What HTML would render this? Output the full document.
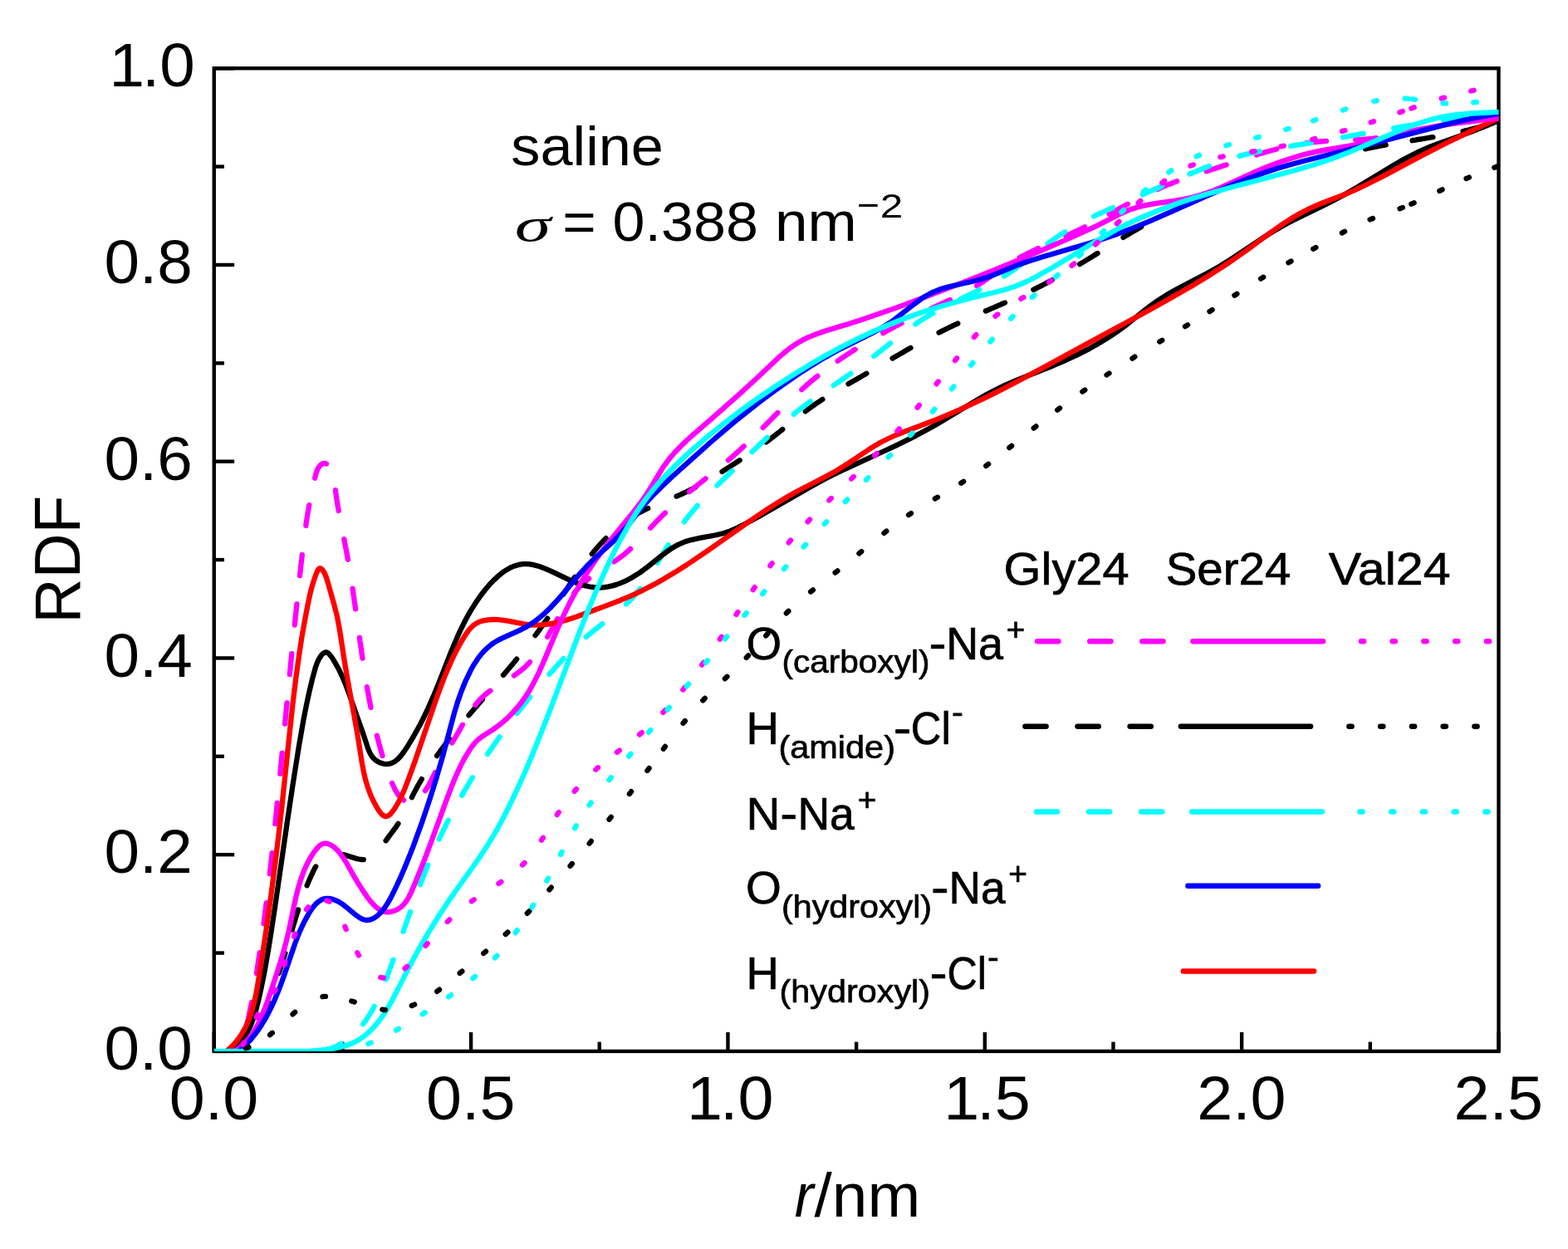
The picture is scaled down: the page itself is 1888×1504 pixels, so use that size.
<!DOCTYPE html>
<html lang="en">
<head>
<meta charset="utf-8">
<title>RDF saline</title>
<style>
html,body{margin:0;padding:0;background:#fff;}
body{width:1888px;height:1504px;overflow:hidden;}
svg{display:block;}
text{font-family:"Liberation Sans",sans-serif;fill:#000;}
.leg{font-family:"Liberation Sans",sans-serif;}
.c{fill:none;stroke-width:6.3;stroke-linecap:round;stroke-linejoin:round;}
</style>
</head>
<body>
<svg xmlns="http://www.w3.org/2000/svg" width="1888" height="1504" viewBox="0 0 1888 1504">
<rect x="0" y="0" width="1888" height="1504" fill="#ffffff"/>
<defs><clipPath id="pc"><rect x="257.75" y="82.25" width="1546.75" height="1183.65"/></clipPath></defs>
<g stroke="#000" stroke-width="4.4" fill="none" stroke-linecap="butt">
<rect x="257.75" y="82.25" width="1546.75" height="1183.65"/>
<line x1="257.75" y1="1265.90" x2="257.75" y2="1243.00"/>
<line x1="412.43" y1="1265.90" x2="412.43" y2="1254.60"/>
<line x1="567.10" y1="1265.90" x2="567.10" y2="1243.00"/>
<line x1="721.77" y1="1265.90" x2="721.77" y2="1254.60"/>
<line x1="876.45" y1="1265.90" x2="876.45" y2="1243.00"/>
<line x1="1031.12" y1="1265.90" x2="1031.12" y2="1254.60"/>
<line x1="1185.80" y1="1265.90" x2="1185.80" y2="1243.00"/>
<line x1="1340.47" y1="1265.90" x2="1340.47" y2="1254.60"/>
<line x1="1495.15" y1="1265.90" x2="1495.15" y2="1243.00"/>
<line x1="1649.83" y1="1265.90" x2="1649.83" y2="1254.60"/>
<line x1="1804.50" y1="1265.90" x2="1804.50" y2="1243.00"/>
<line x1="257.75" y1="1265.90" x2="282.15" y2="1265.90"/>
<line x1="257.75" y1="1147.54" x2="269.95" y2="1147.54"/>
<line x1="257.75" y1="1029.17" x2="282.15" y2="1029.17"/>
<line x1="257.75" y1="910.81" x2="269.95" y2="910.81"/>
<line x1="257.75" y1="792.44" x2="282.15" y2="792.44"/>
<line x1="257.75" y1="674.08" x2="269.95" y2="674.08"/>
<line x1="257.75" y1="555.71" x2="282.15" y2="555.71"/>
<line x1="257.75" y1="437.34" x2="269.95" y2="437.34"/>
<line x1="257.75" y1="318.98" x2="282.15" y2="318.98"/>
<line x1="257.75" y1="200.62" x2="269.95" y2="200.62"/>
<line x1="257.75" y1="82.25" x2="282.15" y2="82.25"/>
</g>
<g clip-path="url(#pc)">
<path class="c" stroke="#000000" d="M285.0 1265.9L286.7 1264.9L288.3 1263.8L289.8 1262.6L291.3 1261.4L292.8 1260.1M312.5 1229.4L313.4 1227.6L314.2 1225.8L315.0 1224.1L315.8 1222.3L316.6 1220.6L317.4 1218.8L318.2 1217.0L319.0 1215.2L319.7 1213.5L320.5 1211.7L321.3 1209.9L322.0 1208.1L322.8 1206.3M335.7 1171.9L336.4 1170.1L337.0 1168.2L337.6 1166.4L338.2 1164.5L338.8 1162.7L339.4 1160.9L340.0 1159.0L340.6 1157.2L341.1 1155.3L341.7 1153.5L342.3 1151.6L342.8 1149.8L343.4 1147.9M351.7 1119.6L352.2 1117.7L352.8 1115.9L353.3 1114.0L353.9 1112.2L354.5 1110.3L355.0 1108.5L355.6 1106.6L356.1 1104.7L356.7 1102.9L357.3 1101.0L357.9 1099.2L358.5 1097.4L359.1 1095.5M369.6 1066.4L370.3 1064.6L371.1 1062.8L371.8 1061.0L372.6 1059.2L373.4 1057.4L374.2 1055.7L375.0 1053.9L375.8 1052.1L376.6 1050.4L377.4 1048.6L378.3 1046.9L379.2 1045.2L380.2 1043.5M413.4 1029.1L415.2 1029.6L417.1 1030.1L419.0 1030.7L420.8 1031.3L422.7 1031.9L424.5 1032.4L426.4 1033.0L428.2 1033.6L430.1 1034.1L432.0 1034.5L433.9 1034.8L435.8 1035.0L437.8 1035.1M464.6 1012.2L465.8 1010.7L466.9 1009.1L468.1 1007.5L469.2 1006.0L470.4 1004.4L471.6 1002.9L472.7 1001.3L473.9 999.8L475.0 998.2L476.2 996.7L477.3 995.1L478.4 993.5L479.4 991.8M495.8 960.3L496.7 958.5L497.5 956.8L498.4 955.1L499.3 953.4L500.2 951.7L501.1 949.9L502.1 948.2L503.0 946.5L503.9 944.8L504.9 943.2L505.8 941.5L506.8 939.8L507.8 938.1M526.1 910.1L527.2 908.5L528.3 907.0L529.5 905.4L530.6 903.8L531.8 902.3L532.9 900.7L534.1 899.2L535.3 897.6L536.4 896.1L537.6 894.5L538.8 893.0L540.0 891.5L541.2 889.9M564.5 861.3L565.8 859.8L567.0 858.3L568.3 856.8L569.5 855.4L570.8 853.9L572.0 852.4L573.3 850.9L574.6 849.5L575.8 848.0L577.1 846.5L578.3 845.1L579.6 843.6L580.9 842.1M606.0 812.9L607.3 811.4L608.5 810.0L609.8 808.5L611.0 807.0L612.3 805.5L613.5 804.0L614.8 802.6L616.0 801.1L617.3 799.6L618.5 798.1L619.7 796.6L621.0 795.1L622.2 793.6M644.5 765.1L645.7 763.6L646.9 762.0L648.0 760.5L649.1 758.9L650.3 757.3L651.4 755.7L652.5 754.2L653.6 752.6L654.8 751.0L655.9 749.4L657.0 747.8L658.1 746.2L659.2 744.6M678.3 715.7L679.3 714.1L680.4 712.5L681.5 710.9L682.5 709.3L683.6 707.7L684.7 706.0L685.7 704.4L686.8 702.8L687.9 701.2L689.0 699.6L690.1 698.0L691.2 696.4L692.3 694.8M712.8 667.0L714.1 665.5L715.3 664.0L716.5 662.5L717.8 661.0L719.1 659.6L720.3 658.1L721.6 656.7L722.9 655.2L724.2 653.8L725.6 652.4L726.9 651.0L728.2 649.6L729.6 648.2M758.2 624.3L759.8 623.3L761.5 622.2L763.1 621.2L764.8 620.2L766.4 619.2L768.1 618.2L769.8 617.3L771.5 616.4L773.2 615.5L775.0 614.6L776.7 613.7L778.4 612.9L780.2 612.1M814.6 597.6L816.4 596.8L818.1 596.1L819.9 595.3L821.7 594.5L823.4 593.7L825.2 592.8L826.9 592.0L828.7 591.2L830.4 590.3L832.2 589.4L833.9 588.6L835.6 587.7L837.3 586.8M869.5 567.9L871.1 566.8L872.8 565.8L874.4 564.7L876.0 563.7L877.7 562.6L879.3 561.6L880.9 560.5L882.5 559.5L884.2 558.4L885.8 557.4L887.4 556.3L889.1 555.3L890.7 554.2M922.4 532.4L924.0 531.2L925.5 530.1L927.1 528.9L928.6 527.7L930.1 526.6L931.7 525.4L933.2 524.2L934.7 523.0L936.3 521.8L937.8 520.6L939.3 519.4L940.8 518.2L942.3 517.0M969.8 495.3L971.3 494.1L972.9 493.0L974.4 491.8L976.0 490.7L977.6 489.6L979.2 488.4L980.8 487.3L982.4 486.2L984.0 485.2L985.6 484.1L987.2 483.0L988.8 481.9L990.4 480.9M1021.6 462.3L1023.3 461.3L1025.0 460.3L1026.7 459.4L1028.3 458.4L1030.0 457.5L1031.7 456.5L1033.4 455.5L1035.1 454.6L1036.7 453.6L1038.4 452.6L1040.1 451.6L1041.8 450.7L1043.4 449.7M1074.6 431.5L1076.3 430.5L1078.0 429.5L1079.7 428.6L1081.3 427.6L1083.0 426.6L1084.7 425.6L1086.4 424.7L1088.1 423.7L1089.7 422.8L1091.4 421.8L1093.1 420.8L1094.8 419.9L1096.5 418.9M1130.6 400.5L1132.4 399.6L1134.1 398.7L1135.8 397.9L1137.6 397.0L1139.3 396.1L1141.1 395.3L1142.8 394.4L1144.5 393.6L1146.3 392.8L1148.0 391.9L1149.8 391.1L1151.5 390.3L1153.3 389.5M1186.9 374.5L1188.7 373.7L1190.5 373.0L1192.3 372.2L1194.0 371.4L1195.8 370.7L1197.6 369.9L1199.4 369.1L1201.1 368.3L1202.9 367.6L1204.7 366.8L1206.5 366.0L1208.3 365.3L1210.0 364.5M1244.3 348.8L1246.1 348.0L1247.8 347.1L1249.5 346.2L1251.3 345.4L1253.0 344.5L1254.7 343.6L1256.5 342.7L1258.2 341.8L1259.9 340.9L1261.6 340.0L1263.3 339.1L1265.0 338.2L1266.7 337.3M1300.1 318.1L1301.7 317.1L1303.4 316.1L1305.1 315.1L1306.7 314.1L1308.4 313.1L1310.0 312.1L1311.7 311.1L1313.3 310.1L1315.0 309.1L1316.6 308.0L1318.3 307.0L1319.9 306.0L1321.6 305.0M1352.5 285.9L1354.2 284.9L1355.9 283.9L1357.5 282.9L1359.2 281.9L1360.8 280.9L1362.5 279.9L1364.2 278.9L1365.8 277.9L1367.5 277.0L1369.2 276.0L1370.8 275.0L1372.5 274.0L1374.2 273.0M1644.0 179.3L1645.9 178.9L1647.8 178.5L1649.7 178.1L1651.6 177.7L1653.5 177.3L1655.4 176.9L1657.3 176.6L1659.2 176.2L1661.1 175.8L1663.0 175.5L1664.9 175.1L1666.8 174.8L1668.7 174.5M1700.5 169.2L1702.4 168.9L1704.3 168.6L1706.3 168.2L1708.2 167.9L1710.1 167.6L1712.0 167.3L1713.9 167.0L1715.8 166.7L1717.7 166.4L1719.6 166.0L1721.6 165.7L1723.5 165.4L1725.4 165.1M1761.5 158.0L1763.4 157.6L1765.3 157.1L1767.1 156.7L1769.0 156.2L1770.9 155.7L1772.8 155.3L1774.7 154.8L1776.5 154.3L1778.4 153.8L1780.3 153.3L1782.2 152.8L1784.0 152.3L1785.9 151.8"/>
<path class="c" stroke="#ff00ff" d="M283.0 1265.9L284.1 1265.0L285.2 1264.0M297.9 1231.6L298.3 1229.7L298.7 1227.8L299.1 1225.9L299.5 1224.0L299.9 1222.1L300.3 1220.2L300.7 1218.3L301.0 1216.4L301.4 1214.5L301.8 1212.6L302.2 1210.7L302.5 1208.8L302.9 1206.9M308.9 1172.1L309.2 1170.2L309.5 1168.3L309.8 1166.4L310.1 1164.5L310.4 1162.5L310.6 1160.6L310.9 1158.7L311.2 1156.8L311.5 1154.9L311.8 1153.0L312.1 1151.0L312.3 1149.1L312.6 1147.2M317.5 1112.2L317.7 1110.3L318.0 1108.4L318.2 1106.5L318.5 1104.6L318.7 1102.6L319.0 1100.7L319.2 1098.8L319.4 1096.9L319.7 1094.9L319.9 1093.0L320.2 1091.1L320.4 1089.2L320.7 1087.2M324.8 1052.2L325.0 1050.3L325.3 1048.3L325.5 1046.4L325.7 1044.5L325.9 1042.6L326.1 1040.6L326.3 1038.7L326.6 1036.8L326.8 1034.9L327.0 1032.9L327.2 1031.0L327.4 1029.1L327.6 1027.1M331.3 992.0L331.5 990.1L331.7 988.2L331.9 986.3L332.1 984.3L332.3 982.4L332.5 980.5L332.7 978.5L332.9 976.6L333.1 974.7L333.3 972.8L333.4 970.8L333.6 968.9L333.8 967.0M337.3 931.8L337.5 929.9L337.6 928.0L337.8 926.0L338.0 924.1L338.2 922.2L338.4 920.3L338.6 918.3L338.8 916.4L338.9 914.5L339.1 912.5L339.3 910.6L339.5 908.7L339.7 906.8M343.1 871.6L343.2 869.7L343.4 867.8L343.6 865.8L343.8 863.9L344.0 862.0L344.2 860.0L344.3 858.1L344.5 856.2L344.7 854.2L344.9 852.3L345.1 850.4L345.3 848.5L345.5 846.5M348.8 812.2L349.0 810.2L349.2 808.3L349.4 806.4L349.6 804.5L349.7 802.5L349.9 800.6L350.1 798.7L350.3 796.7L350.5 794.8L350.7 792.9L350.9 791.0L351.1 789.0L351.3 787.1M354.8 752.5L355.0 750.6L355.2 748.6L355.4 746.7L355.6 744.8L355.8 742.9L356.0 740.9L356.2 739.0L356.4 737.1L356.6 735.1L356.8 733.2L357.0 731.3L357.2 729.4L357.4 727.4M361.0 693.2L361.2 691.3L361.5 689.3L361.7 687.4L361.9 685.5L362.1 683.6L362.3 681.6L362.5 679.7L362.7 677.8L362.9 675.9L363.2 673.9L363.4 672.0L363.6 670.1L363.8 668.1M368.3 633.0L368.6 631.0L368.8 629.1L369.1 627.2L369.4 625.3L369.7 623.4L370.0 621.5L370.3 619.6L370.6 617.6L370.9 615.7L371.3 613.8L371.6 611.9L371.9 610.0L372.3 608.1M379.1 575.7L379.6 573.8L380.0 572.0L380.6 570.1L381.1 568.3L381.8 566.4L382.6 564.7L383.5 563.0L384.7 561.4L386.0 560.0L387.5 558.8L389.3 558.0L391.2 557.9L393.0 558.6M403.9 590.1L404.2 592.0L404.4 593.9L404.7 595.9L405.0 597.8L405.2 599.7L405.5 601.6L405.8 603.5L406.1 605.4L406.4 607.4L406.7 609.3L407.1 611.2L407.4 613.1L407.7 615.0M414.3 649.1L414.6 651.0L415.0 652.9L415.4 654.8L415.7 656.7L416.1 658.6L416.5 660.5L416.8 662.4L417.2 664.3L417.5 666.2L417.9 668.1L418.2 670.0L418.6 671.9L418.9 673.8M424.5 708.6L424.8 710.5L425.1 712.4L425.4 714.3L425.6 716.2L425.9 718.1L426.2 720.1L426.5 722.0L426.7 723.9L427.0 725.8L427.3 727.7L427.6 729.7L427.8 731.6L428.1 733.5M432.9 767.8L433.2 769.7L433.4 771.6L433.7 773.6L434.0 775.5L434.3 777.4L434.5 779.3L434.8 781.2L435.1 783.2L435.4 785.1L435.6 787.0L435.9 788.9L436.2 790.8L436.5 792.7M441.9 827.1L442.2 829.0L442.6 830.9L442.9 832.8L443.2 834.7L443.6 836.6L443.9 838.5L444.3 840.4L444.6 842.3L445.0 844.2L445.4 846.1L445.7 848.0L446.1 849.9L446.5 851.8M453.9 885.8L454.4 887.7L454.9 889.6L455.3 891.4L455.8 893.3L456.3 895.2L456.8 897.1L457.3 898.9L457.8 900.8L458.3 902.7L458.9 904.5L459.4 906.4L460.0 908.3L460.5 910.1M472.1 943.0L472.9 944.7L473.7 946.5L474.5 948.3L475.3 950.0L476.2 951.7L477.2 953.4L478.2 955.1L479.3 956.7L480.5 958.2L481.8 959.7L483.1 961.0L484.6 962.3L486.1 963.5M512.0 952.1L513.1 950.5L514.2 948.9L515.2 947.2L516.1 945.5L517.1 943.8L518.0 942.1L518.9 940.4L519.7 938.7L520.6 936.9L521.4 935.2L522.3 933.5L523.2 931.7L524.1 930.0M544.3 894.5L545.3 892.8L546.3 891.2L547.3 889.5L548.3 887.8L549.3 886.2L550.2 884.5L551.2 882.8L552.2 881.1L553.2 879.5L554.1 877.8L555.1 876.1L556.0 874.4L557.0 872.7M572.2 849.0L573.4 847.5L574.7 846.0L575.9 844.5L577.2 843.1L578.6 841.7L579.9 840.3L581.4 839.0L582.8 837.7L584.3 836.4L585.8 835.2L587.3 834.0L588.8 832.8L590.4 831.7M618.9 813.5L620.5 812.5L622.1 811.3L623.6 810.2L625.2 809.0L626.7 807.9L628.2 806.6L629.7 805.4L631.2 804.1L632.6 802.8L634.0 801.4L635.3 800.1L636.7 798.7L638.0 797.2M659.1 767.0L660.1 765.3L661.0 763.6L662.0 761.9L662.9 760.2L663.9 758.5L664.8 756.8L665.7 755.2L666.7 753.5L667.6 751.8L668.6 750.1L669.5 748.4L670.4 746.7L671.4 745.0M691.2 714.4L692.4 712.9L693.6 711.4L694.9 709.9L696.2 708.5L697.5 707.1L698.9 705.7L700.3 704.3L701.7 703.0L703.1 701.7L704.6 700.4L706.1 699.2L707.6 697.9L709.1 696.7M739.4 676.4L741.0 675.4L742.6 674.2L744.2 673.1L745.7 672.0L747.3 670.8L748.8 669.7L750.4 668.5L751.9 667.3L753.4 666.0L754.8 664.7L756.3 663.5L757.7 662.2L759.1 660.9M783.3 635.6L784.6 634.2L785.9 632.8L787.2 631.4L788.6 630.0L789.9 628.5L791.3 627.1L792.6 625.8L794.0 624.4L795.3 623.0L796.7 621.6L798.1 620.3L799.5 618.9L800.9 617.6M830.0 592.2L831.5 590.9L833.0 589.7L834.5 588.5L836.0 587.3L837.5 586.1L839.0 584.9L840.5 583.6L842.0 582.4L843.5 581.2L845.1 580.0L846.6 578.8L848.1 577.6L849.6 576.4M876.9 554.1L878.4 552.8L879.9 551.6L881.4 550.3L882.8 549.0L884.3 547.8L885.7 546.5L887.2 545.2L888.6 543.9L890.1 542.6L891.5 541.3L892.9 540.0L894.3 538.6L895.7 537.3M918.7 514.9L920.0 513.5L921.4 512.2L922.8 510.8L924.1 509.4L925.5 508.0L926.9 506.7L928.2 505.3L929.6 503.9L930.9 502.5L932.3 501.1L933.7 499.8L935.0 498.4L936.4 497.0M965.3 469.2L966.7 467.9L968.1 466.6L969.6 465.3L971.0 464.0L972.5 462.7L974.0 461.5L975.4 460.2L976.9 458.9L978.4 457.7L979.9 456.5L981.4 455.2L982.9 454.0L984.4 452.8M1008.7 434.6L1010.3 433.5L1011.9 432.4L1013.5 431.3L1015.1 430.2L1016.7 429.2L1018.3 428.1L1019.9 427.0L1021.6 426.0L1023.2 424.9L1024.8 423.8L1026.4 422.8L1028.1 421.8L1029.7 420.7M1063.2 401.1L1064.9 400.2L1066.6 399.2L1068.3 398.3L1070.0 397.4L1071.7 396.5L1073.4 395.5L1075.1 394.6L1076.8 393.7L1078.5 392.8L1080.3 391.9L1082.0 391.0L1083.7 390.2L1085.4 389.3M1121.1 371.7L1122.8 370.9L1124.6 370.1L1126.3 369.3L1128.1 368.4L1129.8 367.6L1131.6 366.8L1133.4 366.0L1135.1 365.2L1136.9 364.4L1138.6 363.5L1140.4 362.7L1142.1 361.9L1143.9 361.1M1176.1 344.1L1177.8 343.1L1179.4 342.0L1181.0 341.0L1182.7 339.9L1184.3 338.8L1185.9 337.7L1187.5 336.6L1189.1 335.5L1190.7 334.4L1192.3 333.3L1193.8 332.2L1195.4 331.1L1197.0 330.0M1227.7 310.3L1229.4 309.4L1231.1 308.5L1232.8 307.6L1234.5 306.7L1236.3 305.8L1238.0 304.9L1239.7 304.1L1241.5 303.2L1243.2 302.3L1244.9 301.5L1246.7 300.7L1248.4 299.8L1250.2 299.0M1283.4 284.0L1285.2 283.2L1287.0 282.4L1288.7 281.6L1290.5 280.8L1292.2 280.0L1294.0 279.2L1295.8 278.4L1297.5 277.5L1299.2 276.7L1301.0 275.8L1302.7 275.0L1304.5 274.1L1306.2 273.2M1335.7 257.8L1337.4 256.8L1339.1 255.9L1340.8 255.0L1342.5 254.1L1344.2 253.1L1345.9 252.2L1347.6 251.3L1349.3 250.4L1351.0 249.5L1352.7 248.5L1354.4 247.6L1356.1 246.7L1357.8 245.8M1394.0 227.8L1395.7 227.0L1397.5 226.2L1399.3 225.4L1401.0 224.7L1402.8 223.9L1404.6 223.2L1406.4 222.4L1408.2 221.7L1410.0 221.0L1411.8 220.3L1413.6 219.6L1415.4 218.9L1417.2 218.2M1452.7 206.3L1454.6 205.7L1456.4 205.1L1458.3 204.5L1460.1 203.9L1462.0 203.3L1463.8 202.7L1465.6 202.1L1467.5 201.5L1469.3 200.8L1471.2 200.2L1473.0 199.6L1474.8 199.0L1476.7 198.4M1513.1 186.4L1514.9 185.8L1516.8 185.2L1518.6 184.7L1520.5 184.1L1522.4 183.6L1524.2 183.0L1526.1 182.5L1528.0 182.0L1529.8 181.5L1531.7 181.0L1533.6 180.5L1535.5 180.0L1537.3 179.5M1571.9 172.5L1573.8 172.2L1575.8 172.0L1577.7 171.7L1579.6 171.5L1581.5 171.2L1583.5 171.0L1585.4 170.8L1587.3 170.6L1589.2 170.5L1591.2 170.3L1593.1 170.2L1595.0 170.0L1597.0 169.9M1632.2 168.4L1634.2 168.3L1636.1 168.2L1638.0 168.1L1640.0 168.0L1641.9 167.8L1643.8 167.6L1645.8 167.5L1647.7 167.3L1649.6 167.1L1651.6 166.9L1653.5 166.6L1655.4 166.4L1657.3 166.1M1692.1 159.8L1694.0 159.4L1695.9 159.0L1697.7 158.6L1699.6 158.2L1701.5 157.8L1703.4 157.4L1705.3 157.0L1707.2 156.6L1709.1 156.2L1711.0 155.8L1712.9 155.4L1714.8 155.0L1716.7 154.6M1751.5 148.4L1753.4 148.2L1755.3 147.9L1757.2 147.6L1759.1 147.4L1761.1 147.2L1763.0 146.9L1764.9 146.7L1766.8 146.5L1768.8 146.3L1770.7 146.1L1772.6 145.9L1774.5 145.6L1776.5 145.4"/>
<path class="c" stroke="#00ffff" d="M387.0 1265.4L389.0 1265.1L390.9 1264.7L392.7 1264.2L394.6 1263.7L396.5 1263.2L398.3 1262.6L400.1 1261.9L401.9 1261.2L403.7 1260.4L405.5 1259.6L407.2 1258.8L408.9 1257.9L410.6 1256.9M437.1 1233.2L438.3 1231.6L439.5 1230.1L440.6 1228.5L441.7 1226.9L442.8 1225.3L443.8 1223.7L444.8 1222.0L445.9 1220.4L446.8 1218.7L447.8 1217.0L448.8 1215.3L449.7 1213.6L450.6 1211.9M464.8 1179.4L465.5 1177.6L466.2 1175.8L466.9 1174.0L467.5 1172.2L468.2 1170.4L468.9 1168.5L469.5 1166.7L470.2 1164.9L470.9 1163.1L471.5 1161.3L472.2 1159.4L472.8 1157.6L473.5 1155.8M485.5 1121.8L486.2 1119.9L486.8 1118.1L487.5 1116.3L488.1 1114.4L488.8 1112.6L489.4 1110.8L490.1 1109.0L490.7 1107.1L491.3 1105.3L492.0 1103.5L492.6 1101.7L493.3 1099.8L494.0 1098.0M506.0 1065.3L506.7 1063.4L507.4 1061.6L508.1 1059.8L508.8 1058.0L509.5 1056.2L510.2 1054.4L510.9 1052.6L511.6 1050.8L512.3 1049.0L513.1 1047.2L513.8 1045.4L514.5 1043.6L515.2 1041.8M528.8 1010.4L529.7 1008.6L530.5 1006.8L531.3 1005.1L532.1 1003.3L533.0 1001.6L533.8 999.8L534.7 998.1L535.5 996.4L536.4 994.6L537.2 992.9L538.1 991.1L539.0 989.4L539.8 987.7M556.0 957.8L557.0 956.2L557.9 954.5L558.9 952.8L559.9 951.1L560.9 949.5L561.9 947.8L562.9 946.1L563.9 944.5L564.9 942.8L565.9 941.2L566.9 939.5L567.9 937.9L568.9 936.2M587.1 908.1L588.2 906.5L589.3 904.9L590.4 903.3L591.5 901.7L592.6 900.1L593.7 898.5L594.8 896.9L595.9 895.3L597.0 893.7L598.1 892.1L599.2 890.6L600.4 889.0L601.5 887.4M622.6 859.1L623.7 857.6L624.9 856.1L626.1 854.6L627.3 853.0L628.5 851.5L629.7 850.0L630.9 848.5L632.1 847.0L633.4 845.4L634.6 843.9L635.8 842.4L637.0 840.9L638.2 839.4M661.5 811.9L662.8 810.4L664.1 809.0L665.4 807.5L666.6 806.1L667.9 804.6L669.2 803.2L670.5 801.7L671.8 800.3L673.1 798.9L674.4 797.4L675.8 796.0L677.1 794.6L678.4 793.2M705.7 767.0L707.2 765.8L708.7 764.5L710.2 763.3L711.7 762.0L713.2 760.8L714.7 759.6L716.2 758.4L717.7 757.2L719.2 756.0L720.8 754.8L722.3 753.6L723.8 752.4L725.3 751.2M753.9 727.5L755.3 726.1L756.7 724.8L758.0 723.4L759.4 722.0L760.7 720.6L762.0 719.2L763.3 717.8L764.6 716.3L765.9 714.9L767.1 713.4L768.4 711.9L769.6 710.4L770.8 708.8M791.6 677.8L792.6 676.1L793.6 674.5L794.6 672.8L795.6 671.2L796.6 669.5L797.6 667.8L798.6 666.2L799.6 664.5L800.6 662.9L801.7 661.2L802.7 659.6L803.7 658.0L804.7 656.3M823.8 628.4L824.9 626.8L826.1 625.3L827.3 623.8L828.5 622.2L829.7 620.7L830.9 619.2L832.2 617.7L833.4 616.2L834.7 614.8L835.9 613.3L837.2 611.8L838.5 610.4L839.8 608.9M863.5 584.6L864.9 583.2L866.3 581.9L867.7 580.5L869.1 579.2L870.5 577.8L871.9 576.5L873.3 575.1L874.7 573.8L876.1 572.4L877.4 571.1L878.8 569.7L880.2 568.4L881.6 567.1M905.5 544.1L906.9 542.8L908.3 541.5L909.7 540.1L911.1 538.8L912.6 537.5L914.0 536.1L915.4 534.8L916.8 533.5L918.2 532.1L919.6 530.8L921.0 529.5L922.4 528.1L923.8 526.8M955.7 498.8L957.2 497.5L958.7 496.3L960.2 495.1L961.7 493.9L963.3 492.7L964.8 491.5L966.3 490.4L967.9 489.2L969.4 488.0L971.0 486.9L972.5 485.7L974.1 484.6L975.7 483.4M1003.7 464.1L1005.3 463.0L1006.9 461.9L1008.5 460.8L1010.1 459.7L1011.7 458.6L1013.3 457.5L1014.9 456.4L1016.5 455.3L1018.1 454.2L1019.7 453.1L1021.2 451.9L1022.8 450.8L1024.4 449.7M1052.2 428.9L1053.8 427.7L1055.3 426.5L1056.8 425.3L1058.4 424.1L1059.9 422.9L1061.4 421.7L1062.9 420.5L1064.4 419.3L1066.0 418.1L1067.5 416.9L1069.0 415.7L1070.5 414.5L1072.0 413.3M1102.1 390.5L1103.6 389.4L1105.2 388.3L1106.9 387.2L1108.5 386.2L1110.1 385.1L1111.7 384.0L1113.4 383.0L1115.0 382.0L1116.7 381.0L1118.3 380.0L1120.0 379.0L1121.7 378.0L1123.4 377.1M1156.6 360.0L1158.4 359.1L1160.1 358.3L1161.9 357.4L1163.6 356.6L1165.4 355.7L1167.1 354.9L1168.9 354.1L1170.6 353.2L1172.3 352.4L1174.1 351.5L1175.8 350.7L1177.6 349.8L1179.3 348.9M1208.9 332.7L1210.5 331.7L1212.2 330.6L1213.8 329.6L1215.4 328.5L1217.0 327.4L1218.6 326.3L1220.2 325.2L1221.8 324.1L1223.4 323.0L1225.0 321.8L1226.5 320.7L1228.1 319.5L1229.6 318.4M1261.4 293.5L1262.9 292.3L1264.5 291.2L1266.0 290.0L1267.6 288.9L1269.2 287.8L1270.8 286.7L1272.4 285.6L1274.0 284.5L1275.6 283.4L1277.2 282.3L1278.9 281.3L1280.5 280.3L1282.2 279.2M1317.1 260.5L1318.8 259.7L1320.6 258.9L1322.3 258.0L1324.1 257.2L1325.9 256.4L1327.6 255.6L1329.4 254.8L1331.1 254.0L1332.9 253.2L1334.7 252.4L1336.4 251.6L1338.2 250.8L1340.0 250.0M1375.7 234.3L1377.5 233.6L1379.3 232.8L1381.1 232.0L1382.9 231.2L1384.6 230.5L1386.4 229.7L1388.2 228.9L1390.0 228.1L1391.7 227.4L1393.5 226.6L1395.3 225.8L1397.1 225.0L1398.8 224.2M1432.5 209.5L1434.3 208.8L1436.1 208.0L1437.9 207.3L1439.7 206.6L1441.5 205.8L1443.3 205.1L1445.1 204.4L1446.9 203.6L1448.7 202.9L1450.5 202.2L1452.3 201.5L1454.1 200.8L1455.9 200.1M1492.3 187.9L1494.2 187.4L1496.1 186.9L1497.9 186.4L1499.8 185.9L1501.7 185.4L1503.6 185.0L1505.5 184.5L1507.3 184.1L1509.2 183.7L1511.1 183.3L1513.0 182.9L1514.9 182.5L1516.8 182.1M1554.0 175.9L1555.9 175.6L1557.8 175.3L1559.7 175.0L1561.6 174.7L1563.6 174.4L1565.5 174.1L1567.4 173.8L1569.3 173.5L1571.2 173.2L1573.1 172.9L1575.0 172.6L1577.0 172.3L1578.9 172.0M1616.8 165.3L1618.7 165.0L1620.6 164.6L1622.5 164.3L1624.4 163.9L1626.3 163.6L1628.2 163.2L1630.1 162.9L1632.0 162.5L1633.9 162.2L1635.8 161.8L1637.7 161.5L1639.7 161.1L1641.6 160.8M1677.9 154.3L1679.8 154.0L1681.7 153.6L1683.6 153.3L1685.5 153.0L1687.5 152.7L1689.4 152.4L1691.3 152.1L1693.2 151.7L1695.1 151.4L1697.0 151.1L1698.9 150.8L1700.8 150.5L1702.8 150.2M1738.2 145.0L1740.1 144.8L1742.0 144.5L1743.9 144.2L1745.9 144.0L1747.8 143.7L1749.7 143.5L1751.6 143.2L1753.6 143.0L1755.5 142.7L1757.4 142.5L1759.3 142.2L1761.2 142.0L1763.2 141.7"/>
<path class="c" stroke="#000000" d="M277.5 1265.9L283.5 1261.2L288.9 1255.8L293.7 1249.6L298.0 1242.6L301.8 1234.8L305.2 1226.1L308.2 1216.3L311.3 1204.2L314.8 1188.4L318.2 1171.6L321.4 1153.8L324.7 1134.1L330.9 1093.4L345.7 990.8L352.3 946.6L359.8 899.2L365.7 865.3L369.1 848.3L372.5 832.6L376.1 817.5L379.7 804.3L381.7 798.4L384.1 793.4L386.8 789.2L388.1 787.7L389.4 786.6L391.5 785.6L392.4 785.4L393.4 785.6L395.4 786.6L397.5 788.8L400.2 792.5L404.0 798.9L407.8 805.7L411.0 812.3L415.4 822.5L419.9 834.3L428.3 858.3L436.7 881.7L443.2 901.5L445.0 905.8L446.9 909.4L449.2 912.5L451.9 915.1L455.0 917.2L458.5 918.8L462.2 919.8L465.9 920.1L469.3 919.7L472.5 918.6L475.9 916.7L479.1 914.0L482.4 910.5L485.8 906.0L490.9 898.4L496.7 888.9L502.0 879.5L507.3 869.8L515.0 853.8L522.8 836.3L529.2 820.5L543.2 784.7L550.5 767.4L554.5 758.6L558.6 750.3L562.7 742.5L566.9 735.1L572.3 726.6L577.8 718.5L583.5 711.0L589.2 704.2L594.8 698.3L600.3 693.3L605.8 688.9L611.3 685.4L615.1 683.3L619.0 681.7L622.8 680.5L626.6 679.6L630.3 679.2L634.0 679.1L637.9 679.4L642.1 680.1L649.3 682.0L657.4 685.1L665.3 688.6L684.7 697.9L694.8 702.2L700.1 704.0L705.2 705.4L710.2 706.5L715.0 707.2L719.3 707.5L723.7 707.5L728.2 707.1L732.6 706.4L737.2 705.4L741.8 704.1L746.5 702.4L751.4 700.3L756.2 698.1L760.9 695.5L770.7 689.4L779.6 682.8L795.8 669.7L802.5 664.7L809.7 659.7L816.6 655.8L824.1 652.6L832.5 650.1L841.0 648.2L861.2 644.5L870.8 642.2L879.2 639.4L888.4 635.4L898.4 630.3L913.2 622.3L970.6 589.2L984.0 581.8L996.1 575.3L1007.2 569.8L1019.6 563.8L1061.7 544.5L1079.7 536.1L1096.4 527.9L1111.4 520.0L1122.5 514.0L1133.1 507.8L1177.7 480.9L1188.0 475.0L1197.6 470.0L1209.1 464.4L1222.1 458.7L1265.1 441.5L1280.7 434.9L1296.9 427.4L1312.2 419.6L1320.7 414.8L1328.9 409.9L1337.0 404.8L1344.6 399.7L1357.0 390.6L1377.8 373.9L1386.2 367.5L1394.9 361.4L1404.5 355.3L1418.2 347.5L1453.2 329.2L1468.9 320.4L1485.6 309.9L1523.1 284.9L1532.4 279.0L1540.9 274.0L1549.5 269.2L1559.1 264.3L1599.7 244.5L1617.3 235.3L1635.5 224.8L1676.8 199.6L1687.1 193.6L1696.7 188.5L1709.5 182.1L1722.0 176.7L1734.0 172.1L1761.3 162.4L1774.0 157.7L1788.7 151.8L1820.9 138.4L1834.5 132.9"/>
<path class="c" stroke="#ff0000" d="M272.5 1265.9L276.0 1263.0L279.3 1259.9L282.4 1256.6L285.3 1253.2L288.0 1249.5L290.6 1245.8L295.3 1237.6L299.3 1228.7L302.8 1218.8L305.9 1207.7L308.7 1194.9L312.9 1169.7L319.6 1125.6L325.3 1085.8L330.6 1045.4L335.0 1009.7L339.2 973.2L349.2 878.2L352.6 846.8L356.5 815.0L360.5 786.4L363.5 766.8L366.8 748.1L370.4 729.1L373.4 715.0L376.1 704.6L379.1 695.3L382.1 687.7L383.2 685.8L384.3 684.6L385.1 684.3L386.0 684.3L387.0 684.9L388.1 686.0L390.4 689.4L392.5 694.1L394.1 699.1L401.7 725.8L405.9 742.0L409.1 759.2L414.0 791.2L417.1 810.3L430.1 882.4L436.1 920.1L438.2 930.9L440.5 940.5L443.4 949.6L446.6 958.1L450.5 966.3L454.8 974.1L458.0 978.7L459.6 980.4L461.0 981.6L462.4 982.5L463.8 983.0L465.1 983.0L466.5 982.7L468.5 981.6L470.7 979.6L473.0 976.8L475.5 973.2L478.6 968.0L481.6 962.5L484.3 956.8L487.0 950.7L492.9 935.4L500.0 915.6L522.0 851.2L529.0 831.4L536.1 812.9L543.0 796.9L547.2 788.1L551.5 779.8L556.1 771.5L560.5 764.3L563.7 759.8L566.7 756.2L569.8 753.3L572.9 751.0L577.2 748.8L582.1 747.3L587.6 746.3L593.7 746.0L599.6 746.2L606.0 746.9L612.6 747.9L630.7 751.3L636.1 752.0L641.1 752.5L647.2 752.6L653.5 752.3L660.1 751.6L666.9 750.4L674.8 748.6L683.2 746.2L692.6 743.2L704.0 739.0L732.5 728.4L747.3 722.7L761.1 716.8L773.9 710.8L786.3 704.4L799.1 697.2L812.4 689.3L826.4 680.5L852.1 663.2L909.2 623.0L923.3 613.6L936.2 605.4L948.1 598.2L959.6 591.7L994.9 573.5L1008.6 565.9L1020.6 558.4L1047.4 540.5L1054.0 536.4L1060.3 532.8L1069.7 528.0L1080.4 523.2L1090.4 519.3L1124.8 506.3L1139.6 500.2L1154.9 493.6L1170.9 486.2L1187.6 478.3L1205.0 469.6L1223.7 460.0L1254.5 443.6L1315.6 410.2L1382.7 374.0L1410.8 358.3L1435.2 344.2L1458.2 330.2L1479.4 316.5L1499.5 302.5L1529.2 280.6L1541.3 272.0L1554.5 263.3L1566.7 256.2L1574.9 252.0L1583.2 248.2L1592.2 244.5L1620.3 233.6L1631.4 228.8L1642.9 223.5L1664.9 212.4L1713.7 186.4L1739.0 173.5L1772.2 157.4L1834.5 128.1"/>
<path class="c" stroke="#ff00ff" d="M282.5 1265.9L287.8 1262.1L292.8 1257.8L297.5 1253.0L301.8 1247.7L305.9 1241.7L309.7 1235.2L313.3 1228.0L316.8 1219.8L321.8 1206.5L330.5 1180.8L336.4 1162.5L341.3 1146.1L344.7 1133.6L347.6 1121.7L354.4 1088.9L356.9 1077.9L359.4 1068.2L362.0 1059.6L365.9 1048.8L370.2 1039.2L375.1 1030.6L377.7 1026.7L380.6 1022.9L383.4 1019.6L386.0 1017.4L388.6 1016.0L391.2 1015.5L394.3 1015.9L397.7 1017.1L401.0 1019.1L404.3 1021.9L406.7 1024.3L409.1 1027.2L414.3 1034.4L417.8 1040.2L425.8 1054.4L430.9 1063.0L436.2 1071.4L441.5 1079.1L445.6 1084.7L449.4 1089.0L453.0 1092.5L456.5 1095.1L460.0 1096.9L463.5 1098.0L467.0 1098.3L470.7 1098.0L474.8 1096.8L478.8 1095.0L482.5 1092.5L485.7 1089.5L489.0 1085.5L492.0 1080.6L494.9 1074.8L498.6 1066.2L507.2 1045.3L514.7 1025.9L537.5 963.6L544.5 945.2L548.3 936.0L551.9 927.9L555.5 920.4L559.2 913.4L563.1 906.8L566.9 900.9L570.3 896.3L573.7 892.5L576.8 889.7L580.4 886.9L593.1 878.8L599.0 874.7L604.4 870.4L609.6 865.9L616.1 859.6L622.2 852.7L628.1 845.4L633.6 837.6L637.5 831.4L641.3 824.8L645.0 817.6L648.8 809.9L655.0 795.9L666.7 768.0L672.8 753.8L679.5 739.2L686.0 725.8L692.8 713.2L699.7 701.2L707.3 689.0L715.5 676.7L723.7 665.3L732.6 653.6L760.7 619.1L771.4 605.2L776.5 598.0L781.1 591.1L794.4 569.1L799.7 560.8L805.9 552.5L812.9 544.3L820.6 536.4L829.8 527.7L868.0 494.4L889.7 475.1L909.0 457.5L938.9 429.3L946.1 423.2L952.7 418.1L959.4 413.6L966.0 409.7L973.3 406.2L981.6 402.8L994.5 398.3L1022.0 389.9L1041.2 383.7L1060.7 377.1L1081.1 369.9L1106.9 360.3L1136.9 348.9L1170.9 335.6L1203.3 322.6L1251.5 302.6L1296.2 283.2L1309.8 277.0L1321.7 271.4L1349.9 257.0L1359.8 252.7L1368.9 249.8L1379.2 247.2L1390.9 245.1L1415.2 241.7L1425.6 239.9L1436.2 237.6L1446.7 234.6L1457.7 230.8L1469.7 226.0L1480.9 221.0L1508.0 208.5L1523.2 202.0L1538.7 196.0L1553.7 190.9L1569.4 186.3L1584.8 182.6L1598.3 180.1L1629.6 174.9L1644.0 172.0L1656.9 168.8L1691.9 159.6L1704.0 156.8L1716.9 154.3L1733.1 151.4L1751.1 148.7L1773.4 145.8L1816.7 140.8L1826.2 139.4L1834.5 137.9"/>
<path class="c" stroke="#0000ff" d="M287.5 1265.9L292.6 1261.3L297.6 1256.4L302.3 1251.3L306.7 1245.8L311.1 1239.9L315.2 1233.7L319.2 1227.2L323.0 1220.1L326.4 1213.3L329.7 1206.2L336.4 1190.2L342.4 1173.6L355.1 1136.5L358.5 1127.5L361.8 1119.6L366.5 1109.6L371.5 1100.6L376.2 1093.4L378.4 1090.6L380.6 1088.2L383.0 1086.1L385.5 1084.4L387.8 1083.1L390.4 1082.3L393.0 1081.9L395.7 1081.9L398.6 1082.3L401.6 1083.2L406.8 1085.3L412.2 1088.6L417.1 1092.4L427.7 1101.3L432.6 1104.8L435.2 1106.3L437.6 1107.2L439.9 1107.8L442.1 1108.0L444.9 1107.7L448.0 1106.7L451.2 1105.0L454.4 1102.7L457.5 1099.8L460.6 1096.4L463.5 1092.6L466.5 1088.1L470.6 1080.9L475.9 1070.2L481.6 1057.9L487.1 1045.3L492.2 1032.8L497.4 1019.6L508.5 989.1L517.5 962.2L525.8 935.7L533.7 908.3L546.8 859.2L551.1 845.1L555.5 832.5L560.9 819.3L566.7 807.3L569.5 802.2L572.5 797.4L575.5 792.9L578.7 788.8L582.5 784.3L586.5 780.4L590.8 776.8L595.2 773.6L599.4 771.1L604.3 768.6L624.9 759.4L633.7 754.9L639.0 751.7L644.3 748.0L649.5 743.9L654.8 739.4L662.5 732.0L670.6 723.4L678.3 714.6L697.3 692.0L708.1 680.2L717.4 671.0L738.8 651.7L747.6 642.8L754.6 634.6L768.4 616.7L775.2 608.4L784.8 597.8L795.9 586.7L809.6 573.8L835.1 550.8L855.1 533.0L871.2 519.1L886.0 506.7L900.8 494.7L915.5 483.3L930.2 472.3L946.1 460.9L961.7 450.2L976.2 440.8L990.0 432.3L999.4 426.9L1008.8 421.8L1048.0 402.3L1057.4 397.3L1065.5 392.5L1072.2 388.2L1078.3 383.8L1100.4 366.4L1109.6 359.7L1114.7 356.5L1119.7 353.7L1124.4 351.4L1129.4 349.3L1136.0 347.1L1143.6 345.0L1172.6 338.5L1184.5 335.3L1190.4 333.3L1196.9 330.9L1223.5 319.9L1237.9 314.7L1257.1 308.8L1313.1 292.5L1328.5 287.6L1342.5 282.8L1362.9 275.1L1385.4 265.8L1407.0 256.4L1459.3 233.1L1486.7 221.5L1500.7 215.9L1513.9 210.9L1526.6 206.5L1538.8 202.5L1553.7 198.2L1570.2 193.7L1640.3 176.3L1724.7 154.1L1749.8 147.8L1765.6 144.1L1780.0 141.1L1796.5 138.1L1821.4 134.4L1828.4 132.9L1834.5 131.1"/>
<path class="c" stroke="#00ffff" d="M257.75 1265.90L372.0 1265.9L392.3 1263.9L399.3 1262.9L405.5 1261.8L411.6 1260.4L417.2 1258.8L422.2 1257.0L427.0 1254.9L431.8 1252.2L436.5 1249.2L441.0 1245.6L445.5 1241.6L449.9 1237.1L454.1 1232.3L458.3 1226.8L462.4 1221.0L467.7 1212.5L473.2 1202.6L490.5 1168.6L500.4 1150.0L508.8 1134.9L517.5 1120.3L527.9 1103.5L538.5 1087.4L548.0 1073.8L572.5 1039.5L585.5 1020.3L591.9 1010.0L598.2 999.2L604.6 987.5L611.1 974.8L619.6 957.2L628.1 938.7L636.7 919.0L645.5 897.8L661.0 858.4L696.9 763.3L706.9 738.0L716.3 715.4L726.5 692.0L736.1 671.4L745.4 653.1L754.6 636.4L760.0 627.3L765.4 618.6L771.0 610.3L776.7 602.3L782.4 594.8L788.3 587.5L794.6 580.1L801.4 572.7L808.7 565.0L816.4 557.4L824.7 549.6L833.6 541.5L853.8 524.1L875.4 506.9L894.1 492.8L913.5 478.8L933.7 465.1L954.4 451.8L974.2 439.6L993.7 428.3L1013.1 417.8L1032.2 408.1L1052.0 398.9L1071.6 390.5L1091.0 382.8L1111.1 375.7L1131.7 369.2L1153.1 363.1L1171.0 358.4L1199.7 351.5L1210.2 348.8L1220.1 345.6L1229.3 342.0L1236.1 339.0L1243.3 335.4L1261.3 325.6L1278.3 315.6L1320.6 289.9L1332.8 282.9L1343.7 276.8L1355.7 270.6L1368.2 264.7L1381.2 259.0L1394.7 253.5L1408.1 248.5L1422.3 243.5L1437.3 238.6L1453.3 233.7L1485.2 224.7L1556.9 205.7L1576.6 200.0L1594.0 194.5L1610.2 188.8L1625.8 182.7L1640.7 176.4L1675.3 161.3L1691.8 154.5L1707.6 148.7L1722.1 144.2L1730.7 142.0L1739.0 140.3L1747.2 139.0L1756.3 137.9L1773.0 136.5L1815.5 134.3L1834.5 132.6"/>
<path class="c" stroke="#000000" d="M296.0 1262.3L297.7 1261.7L299.4 1261.1M325.0 1246.1L326.4 1244.9L327.8 1243.8M352.5 1221.3L353.8 1220.1L355.2 1218.9M388.4 1200.2L390.2 1199.9L392.0 1199.8M423.3 1205.4L425.0 1205.9L426.7 1206.5M460.3 1215.7L462.0 1216.0L463.8 1216.1M495.8 1211.0L497.5 1210.3L499.1 1209.6M526.2 1193.9L527.7 1192.8L529.1 1191.7M553.6 1171.9L555.0 1170.7L556.4 1169.6M582.3 1148.0L583.6 1146.8L585.0 1145.7M608.7 1125.0L610.1 1123.8L611.4 1122.6M634.8 1099.8L636.0 1098.6L637.3 1097.3M661.4 1071.4L662.6 1070.1L663.8 1068.7M686.6 1042.8L687.8 1041.4L688.9 1040.0M709.6 1015.7L710.8 1014.3L711.9 1012.9M733.5 986.7L734.6 985.3L735.8 983.9M757.9 956.0L759.0 954.6L760.1 953.2M779.4 928.0L780.5 926.5L781.6 925.1M798.9 901.8L799.9 900.3L801.0 898.9M822.6 870.8L823.8 869.4L824.9 868.1M846.3 843.5L847.6 842.2L848.8 840.9M872.9 817.3L874.2 816.1L875.5 814.8M898.7 791.9L899.9 790.6L901.1 789.3M922.2 765.5L923.4 764.1L924.6 762.7M946.8 738.4L948.1 737.1L949.4 735.9M976.1 712.6L977.5 711.5L978.9 710.4M1005.6 689.6L1007.0 688.5L1008.4 687.4M1034.4 666.4L1035.8 665.3L1037.2 664.1M1064.4 641.9L1065.8 640.8L1067.3 639.7M1094.0 620.1L1095.5 619.1L1097.0 618.1M1125.8 600.5L1127.4 599.6L1128.9 598.7M1157.2 581.7L1158.7 580.8L1160.2 579.8M1187.2 561.0L1188.6 559.9L1190.1 558.8M1215.3 539.1L1216.7 538.0L1218.1 536.9M1244.7 515.6L1246.1 514.5L1247.5 513.4M1273.1 493.7L1274.6 492.6L1276.0 491.5M1303.3 471.6L1304.8 470.6L1306.3 469.6M1332.5 451.5L1334.0 450.5L1335.5 449.5M1363.4 431.6L1364.9 430.6L1366.4 429.6M1396.3 411.5L1397.8 410.6L1399.3 409.7M1427.0 393.2L1428.6 392.2L1430.1 391.3M1456.5 375.1L1458.1 374.1L1459.6 373.1M1486.4 355.7L1487.9 354.8L1489.4 353.8M1518.1 335.6L1519.7 334.6L1521.2 333.7M1551.5 316.3L1553.0 315.4L1554.6 314.5M1581.2 299.8L1582.8 298.9L1584.4 298.0M1615.9 280.5L1617.5 279.6L1619.1 278.8M1649.6 264.4L1651.3 263.7L1653.0 263.0M1685.5 251.2L1687.2 250.6L1688.9 249.9M1699.3 245.7L1701.0 245.0L1702.6 244.2M1733.3 229.9L1735.0 229.1L1736.6 228.3M1765.5 215.0L1767.2 214.3L1768.9 213.6M1799.3 201.8L1801.0 201.2L1802.7 200.5"/>
<path class="c" stroke="#ff00ff" d="M292.2 1257.9L293.2 1256.4L294.3 1255.0M308.9 1225.0L309.6 1223.3L310.3 1221.7M329.6 1194.7L330.7 1193.3L331.7 1191.8M342.3 1161.8L342.8 1160.1L343.3 1158.3M354.1 1127.8L354.7 1126.1L355.3 1124.4M368.9 1095.1L370.0 1093.7L371.2 1092.3M393.2 1084.5L394.9 1085.0L396.6 1085.7M415.4 1115.8L416.0 1117.4L416.7 1119.1M430.2 1147.3L431.1 1148.9L432.1 1150.4M458.2 1177.0L460.0 1177.3L461.8 1177.5M487.5 1166.2L488.9 1165.0L490.2 1163.9M512.5 1138.8L513.7 1137.4L514.8 1136.0M538.7 1109.9L540.0 1108.7L541.3 1107.4M567.7 1085.3L569.2 1084.3L570.7 1083.3M600.4 1063.9L601.9 1062.9L603.4 1061.9M629.1 1041.5L630.3 1040.3L631.6 1039.0M651.9 1011.7L652.9 1010.2L653.9 1008.7M670.8 981.1L671.8 979.6L672.8 978.1M691.7 952.9L692.8 951.5L694.0 950.2M717.3 926.7L718.6 925.5L720.0 924.3M742.9 905.8L744.3 904.7L745.7 903.7M770.0 884.5L771.4 883.3L772.8 882.2M798.4 857.9L799.6 856.6L800.8 855.3M822.3 830.6L823.4 829.2L824.6 827.8M845.1 800.7L846.2 799.2L847.2 797.8M866.7 769.7L867.7 768.2L868.7 766.7M886.5 740.0L887.5 738.5L888.5 737.0M906.7 710.2L907.7 708.7L908.8 707.2M927.4 681.3L928.5 679.9L929.6 678.4M949.7 653.4L950.8 652.0L952.0 650.7M972.5 628.3L973.7 627.0L975.0 625.7M998.3 602.5L999.6 601.2L1000.9 600.0M1025.2 576.5L1026.5 575.3L1027.8 574.0M1053.3 548.6L1054.5 547.3L1055.8 546.0M1080.4 519.1L1081.6 517.7L1082.8 516.4M1104.6 490.7L1105.7 489.3L1106.9 487.9M1127.6 462.3L1128.7 460.9L1129.8 459.5M1149.9 434.1L1151.0 432.7L1152.1 431.3M1172.9 405.9L1174.1 404.6L1175.3 403.2M1198.5 380.7L1199.9 379.6L1201.3 378.5M1229.4 359.9L1231.0 358.9L1232.5 358.0M1263.0 339.9L1264.5 338.9L1266.0 337.9M1290.5 319.8L1291.9 318.6L1293.3 317.5M1319.1 294.4L1320.4 293.1L1321.7 291.9M1344.8 269.3L1346.1 268.0L1347.4 266.8M1370.7 244.4L1372.0 243.1L1373.3 241.9M1399.3 220.1L1400.7 219.0L1402.2 217.9M1433.5 199.7L1435.1 199.0L1436.8 198.4M1469.3 189.1L1471.0 188.8L1472.8 188.4M1507.2 182.7L1508.9 182.5L1510.7 182.2M1542.3 176.4L1544.1 176.0L1545.9 175.6M1580.0 167.9L1581.7 167.4L1583.5 167.0M1616.0 158.1L1617.7 157.6L1619.4 157.1M1650.6 147.3L1652.3 146.8L1654.0 146.2M1685.4 135.3L1687.1 134.7L1688.8 134.1M1699.3 130.5L1701.0 129.9L1702.7 129.3M1735.6 118.6L1737.3 118.1L1739.0 117.6M1771.1 109.5L1772.9 109.2L1774.6 108.8"/>
<path class="c" stroke="#00ffff" d="M443.3 1256.9L445.0 1256.3L446.6 1255.6M477.0 1240.6L478.6 1239.7L480.1 1238.8M508.7 1221.2L510.2 1220.2L511.7 1219.3M540.1 1200.3L541.6 1199.2L543.0 1198.2M569.4 1178.1L570.7 1177.0L572.1 1175.8M595.9 1153.4L597.1 1152.1L598.4 1150.8M620.7 1123.1L621.7 1121.6L622.8 1120.2M640.4 1092.8L641.3 1091.2L642.2 1089.7M658.4 1060.7L659.2 1059.1L660.1 1057.5M675.0 1028.9L675.9 1027.3L676.7 1025.7M692.0 997.3L692.9 995.8L693.8 994.2M709.6 969.4L710.7 968.0L711.7 966.5M733.5 939.1L734.7 937.7L735.8 936.3M757.2 910.7L758.3 909.3L759.5 907.9M781.1 881.8L782.3 880.4L783.4 879.1M803.7 854.6L804.8 853.2L806.0 851.8M826.8 826.4L827.9 825.0L829.1 823.6M849.8 798.1L850.9 796.7L852.0 795.3M873.0 769.4L874.2 768.0L875.3 766.6M896.4 740.9L897.6 739.5L898.7 738.1M918.1 715.1L919.2 713.7L920.4 712.4M943.9 685.2L945.1 683.9L946.3 682.5M967.6 658.5L968.8 657.1L970.0 655.8M992.6 631.0L993.9 629.7L995.1 628.4M1017.8 604.1L1019.0 602.7L1020.3 601.4M1042.9 577.9L1044.1 576.6L1045.4 575.3M1069.6 550.6L1070.9 549.3L1072.2 548.1M1095.9 524.2L1097.2 522.9L1098.4 521.6M1122.9 495.6L1124.1 494.3L1125.3 492.9M1146.1 468.3L1147.2 466.9L1148.3 465.5M1169.1 439.6L1170.3 438.2L1171.4 436.8M1192.4 411.4L1193.6 410.1L1194.8 408.7M1217.1 383.7L1218.3 382.4L1219.6 381.1M1242.8 358.1L1244.1 356.8L1245.5 355.6M1270.9 333.4L1272.3 332.3L1273.7 331.1M1299.2 308.4L1300.5 307.2L1301.8 305.9M1326.7 280.5L1327.9 279.2L1329.1 277.9M1350.4 255.6L1351.7 254.3L1352.9 253.1M1376.8 230.8L1378.2 229.7L1379.6 228.5M1407.4 207.4L1408.9 206.4L1410.4 205.4M1440.6 188.4L1442.3 187.7L1443.9 186.9M1476.4 175.3L1478.2 174.8L1479.9 174.3M1512.3 165.8L1514.1 165.4L1515.8 164.9M1548.3 155.9L1550.0 155.4L1551.7 154.9M1581.0 145.4L1582.7 144.8L1584.4 144.2M1617.0 132.6L1618.7 132.0L1620.4 131.4M1654.3 121.8L1656.1 121.5L1657.8 121.1M1691.6 118.6L1693.4 118.7L1695.2 118.8M1700.6 119.3L1702.3 119.5L1704.1 119.8M1737.4 124.3L1739.2 124.4L1741.0 124.5M1774.2 123.3L1776.0 123.1L1777.8 123.0"/>
</g>
<g class="c">
<line x1="1249.05" y1="772.25" x2="1408.35" y2="772.25" stroke="#ff00ff" stroke-dasharray="25.4 37.7"/>
<line x1="1436.40" y1="772.25" x2="1593.20" y2="772.25" stroke="#ff00ff"/>
<line x1="1638.80" y1="772.25" x2="1807.55" y2="772.25" stroke="#ff00ff" stroke-dasharray="3.4 34.35"/>
<line x1="1234.30" y1="874.75" x2="1393.60" y2="874.75" stroke="#000000" stroke-dasharray="25.4 37.7"/>
<line x1="1421.80" y1="874.75" x2="1578.20" y2="874.75" stroke="#000000"/>
<line x1="1624.30" y1="874.75" x2="1793.05" y2="874.75" stroke="#000000" stroke-dasharray="3.4 34.35"/>
<line x1="1247.80" y1="977.50" x2="1407.10" y2="977.50" stroke="#00ffff" stroke-dasharray="25.4 37.7"/>
<line x1="1435.05" y1="977.50" x2="1591.95" y2="977.50" stroke="#00ffff"/>
<line x1="1637.30" y1="977.50" x2="1806.05" y2="977.50" stroke="#00ffff" stroke-dasharray="3.4 34.35"/>
<line x1="1430.30" y1="1066.75" x2="1587.20" y2="1066.75" stroke="#0000ff"/>
<line x1="1424.70" y1="1169.50" x2="1582.20" y2="1169.50" stroke="#ff0000"/>
</g>
<g>
<text transform="translate(257.45 1347.9) scale(1.030 1)" font-size="75.0" text-anchor="middle">0.0</text>
<text transform="translate(566.80 1347.9) scale(1.030 1)" font-size="75.0" text-anchor="middle">0.5</text>
<text transform="translate(876.15 1347.9) scale(1.030 1)" font-size="75.0" text-anchor="middle"><tspan dx="2.9">1</tspan><tspan dx="-2.9">.0</tspan></text>
<text transform="translate(1185.50 1347.9) scale(1.030 1)" font-size="75.0" text-anchor="middle"><tspan dx="2.9">1</tspan><tspan dx="-2.9">.5</tspan></text>
<text transform="translate(1494.85 1347.9) scale(1.030 1)" font-size="75.0" text-anchor="middle">2.0</text>
<text transform="translate(1804.20 1347.9) scale(1.030 1)" font-size="75.0" text-anchor="middle">2.5</text>
<text transform="translate(231.90 1288.10) scale(1.020 1)" font-size="75.0" text-anchor="end">0.0</text>
<text transform="translate(231.90 1051.37) scale(1.020 1)" font-size="75.0" text-anchor="end">0.2</text>
<text transform="translate(231.90 814.64) scale(1.020 1)" font-size="75.0" text-anchor="end">0.4</text>
<text transform="translate(231.90 577.91) scale(1.020 1)" font-size="75.0" text-anchor="end">0.6</text>
<text transform="translate(231.90 341.18) scale(1.020 1)" font-size="75.0" text-anchor="end">0.8</text>
<text transform="translate(231.90 104.45) scale(1.020 1)" font-size="75.0" text-anchor="end"><tspan dx="2.9">1</tspan><tspan dx="-2.9">.0</tspan></text>
</g>
<text transform="translate(95.7 750.71) scale(1.0298 1) rotate(-90)" font-size="75.00">RDF</text>
<g>
<text transform="translate(956.69 1465.00) scale(0.9181 1)" font-size="75.00" font-style="italic">r</text>
<text transform="translate(980.50 1465.00) scale(1.0217 1)" font-size="75.00">/nm</text>
</g>
<g>
<text transform="translate(615.27 199.00) scale(1.0418 1)" font-size="67.50">saline</text>
<text transform="translate(619.85 289.80) scale(1.5221 1)" font-size="58.00" style="font-family:'Liberation Serif',serif" font-style="italic">σ</text>
<text transform="translate(677.34 290.00) scale(1.0263 1)" font-size="67.50">=</text>
<text transform="translate(737.60 290.00) scale(1.0376 1)" font-size="67.50">0.388</text>
<text transform="translate(932.90 290.00) scale(1.0530 1)" font-size="67.50">nm</text>
<text transform="translate(1031.98 262.00) scale(1.0544 1)" font-size="44.00">−</text>
<text transform="translate(1059.63 262.20) scale(1.2061 1)" font-size="41.00">2</text>
</g>
<g class="leg" stroke="#000" stroke-width="0.7" stroke-linejoin="round">
<text transform="translate(1208.61 703.70) scale(1.0323 1)" font-size="56.00">Gly24</text>
<text transform="translate(1403.66 703.70) scale(1.0081 1)" font-size="56.00">Ser24</text>
<text transform="translate(1599.80 703.70) scale(1.0561 1)" font-size="56.00">Val24</text>
<text transform="translate(898.49 794.30) scale(0.9812 1)" font-size="56.00">O</text>
<text transform="translate(941.47 810.30) scale(1.0263 1)" font-size="39.50">(carboxyl)</text>
<text transform="translate(1118.46 794.30) scale(1.1267 1)" font-size="56.00">-</text>
<text transform="translate(1139.15 794.30) scale(0.9638 1)" font-size="56.00">Na</text>
<text transform="translate(1211.67 770.60) scale(0.9761 1)" font-size="39.50">+</text>
<text transform="translate(898.49 896.10) scale(0.9769 1)" font-size="56.00">H</text>
<text transform="translate(937.41 912.60) scale(1.0499 1)" font-size="39.50">(amide)</text>
<text transform="translate(1075.87 896.10) scale(1.1635 1)" font-size="56.00">-</text>
<text transform="translate(1096.87 896.10) scale(0.9042 1)" font-size="56.00">Cl</text>
<text transform="translate(1145.93 871.40) scale(1.0544 1)" font-size="39.50">-</text>
<text transform="translate(898.42 998.80) scale(1.0122 1)" font-size="56.00">N</text>
<text transform="translate(939.24 998.80) scale(1.1340 1)" font-size="56.00">-</text>
<text transform="translate(960.38 998.80) scale(0.9564 1)" font-size="56.00">Na</text>
<text transform="translate(1032.65 975.60) scale(0.9866 1)" font-size="39.50">+</text>
<text transform="translate(897.98 1087.80) scale(0.9838 1)" font-size="56.00">O</text>
<text transform="translate(941.02 1104.80) scale(1.0441 1)" font-size="39.50">(hydroxyl)</text>
<text transform="translate(1120.97 1087.80) scale(1.1635 1)" font-size="56.00">-</text>
<text transform="translate(1142.40 1087.80) scale(0.9519 1)" font-size="56.00">Na</text>
<text transform="translate(1214.35 1064.60) scale(0.9866 1)" font-size="39.50">+</text>
<text transform="translate(898.62 1191.30) scale(0.9705 1)" font-size="56.00">H</text>
<text transform="translate(938.52 1207.40) scale(1.0471 1)" font-size="39.50">(hydroxyl)</text>
<text transform="translate(1119.54 1191.30) scale(1.1340 1)" font-size="56.00">-</text>
<text transform="translate(1140.49 1191.30) scale(0.8977 1)" font-size="56.00">Cl</text>
<text transform="translate(1188.94 1166.10) scale(1.0440 1)" font-size="39.50">-</text>
</g>
</svg>
</body>
</html>
